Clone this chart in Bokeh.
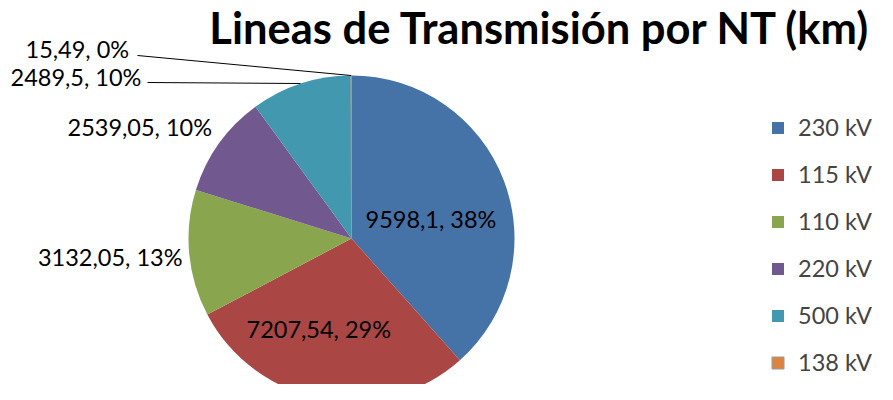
import math
from bokeh.plotting import figure
from bokeh.models import Range1d, Legend, LegendItem
from bokeh.core.properties import value
from bokeh.embed import file_html
from bokeh.resources import INLINE

# ---- data ----
categories = ["230 kV", "115 kV", "110 kV", "220 kV", "500 kV", "138 kV"]
values = [9598.1, 7207.54, 3132.05, 2539.05, 2489.5, 15.49]
pct_labels = ["38%", "29%", "13%", "10%", "10%", "0%"]
value_labels = ["9598,1", "7207,54", "3132,05", "2539,05", "2489,5", "15,49"]
colors = ["#4572A7", "#AA4643", "#89A54E", "#71588F", "#4198AF", "#DB843D"]
title = "Lineas de Transmisión por NT (km)"

# ---- layout ----
W, H = 877, 384
FONT = "Lato"
cx, cy, R = 351, 146, 163
# label anchor (x, y, align) per slice
label_pos = [(365, 166, "left"), (246, 56, "left"), (182, 128, "right"),
             (67, 258, "left"), (10, 308, "left"), (25, 336, "left")]

p = figure(width=W, height=H, output_backend="svg", toolbar_location=None,
           x_range=Range1d(0, W), y_range=Range1d(0, H),
           min_border=0, outline_line_color=None)
p.axis.visible = False
p.grid.visible = False
p.background_fill_color = "white"

total = sum(values)
starts, ends = [], []
acc = 0.0
for v in values:
    starts.append(math.pi / 2 - 2 * math.pi * acc / total)
    acc += v
    ends.append(math.pi / 2 - 2 * math.pi * acc / total)

renderers = []
for i in range(len(values)):
    r = p.wedge(x=cx, y=cy, radius=R, start_angle=starts[i], end_angle=ends[i],
                direction="clock", fill_color=colors[i],
                line_color="#9a9a9a" if i == 5 else None, line_width=1)
    renderers.append(r)

texts = [f"{v}, {pc}" for v, pc in zip(value_labels, pct_labels)]
for i, t in enumerate(texts):
    x, y, al = label_pos[i]
    p.text(x=[x], y=[y], text=[t], text_font=value(FONT), text_font_size="23.5px",
           text_align=al, text_baseline="middle", text_color="black")

# leader lines to outer slice edges
def edge_point(i):
    mid = (starts[i] + ends[i]) / 2
    return cx + R * math.cos(mid), cy + R * math.sin(mid)

ex5, ey5 = edge_point(5)
p.line(x=[137, ex5], y=[329, ey5], line_color="black", line_width=1)
p.line(x=[147, 300], y=[302, 301], line_color="black", line_width=1)

# title
p.text(x=[540], y=[358], text=[title], text_font=value(FONT), text_font_size="43.5px",
       text_font_style="bold", text_align="center", text_baseline="middle",
       text_color="black")

legend = Legend(items=[LegendItem(label=c, renderers=[r]) for c, r in zip(categories, renderers)],
                location=(770, 8), glyph_width=15, glyph_height=15,
                label_text_font=FONT, label_text_font_size="23.5px",
                spacing=19, label_standoff=13, border_line_color=None,
                background_fill_alpha=0, padding=0, margin=0)
p.add_layout(legend)

open("out.html", "w").write(file_html(p, INLINE))
